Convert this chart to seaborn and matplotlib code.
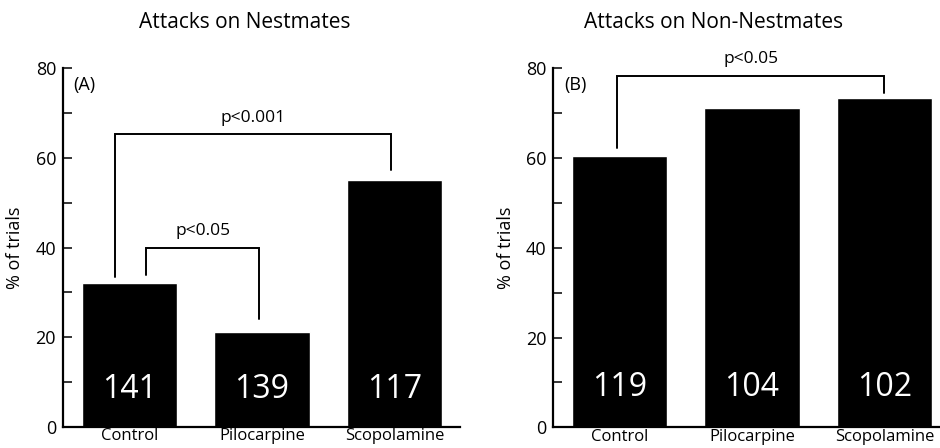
import matplotlib
matplotlib.use("Agg")
import matplotlib.pyplot as plt
import seaborn as sns
from matplotlib.ticker import MultipleLocator

# -----------------------------------
# DATA
# -----------------------------------

categories = ["Control", "Pilocarpine", "Scopolamine"]

nestmates_pct = [32.0, 21.1, 55.0]
nestmates_n = [141, 139, 117]

non_nestmates_pct = [60.4, 71.1, 73.4]
non_nestmates_n = [119, 104, 102]

titles = ["Attacks on Nestmates", "Attacks on Non-Nestmates"]
panel_labels = ["(A)", "(B)"]
y_ticks = [0, 20, 40, 60, 80]

# significance brackets: (x_left, x_right, y_top, y_left_end, y_right_end, text)
brackets_a = [
    (-0.105, 1.97, 65.2, 33.5, 57.2, "p<0.001"),
    (0.125, 0.98, 39.9, 33.9, 24.0, "p<0.05"),
]
brackets_b = [
    (-0.02, 2.0, 78.3, 62.1, 74.5, "p<0.05"),
]

# -----------------------------------
# STYLE
# -----------------------------------

sns.set_style("ticks")
plt.rcParams["font.family"] = ["Open Sans", "DejaVu Sans"]
plt.rcParams["text.color"] = "black"
plt.rcParams["axes.labelcolor"] = "black"
plt.rcParams["xtick.color"] = "black"
plt.rcParams["ytick.color"] = "black"

fig = plt.figure(figsize=(9.4, 4.48), dpi=100)

ax_a = fig.add_axes([0.067, 0.047, 0.422, 0.801])
ax_b = fig.add_axes([0.5886, 0.046, 0.4114, 0.802])


def draw_panel(ax, values, counts, brackets, label, n_y):
    sns.barplot(
        x=categories,
        y=values,
        color="black",
        saturation=1,
        width=0.72,
        errorbar=None,
        ax=ax
    )

    ax.set_xlim(-0.5, 2.49)
    ax.set_ylim(0, 80)
    ax.set_yticks(y_ticks)
    ax.yaxis.set_minor_locator(MultipleLocator(10))
    ax.tick_params(axis="y", which="both", direction="in", length=6.5,
                   width=1.1, labelsize=13, pad=5, color="black",
                   labelcolor="black", left=True, right=False)
    ax.tick_params(axis="x", length=0, labelsize=12, pad=1,
                   labelcolor="black")
    ax.set_ylabel("% of trials", fontsize=13, labelpad=8, color="black")
    ax.set_xlabel("")

    for side in ["top", "right"]:
        ax.spines[side].set_visible(False)
    for side in ["left", "bottom"]:
        ax.spines[side].set_linewidth(1.6)
        ax.spines[side].set_color("black")

    # counts inside the bars
    for i, n in enumerate(counts):
        ax.text(i, n_y, str(n), color="white", fontsize=23,
                ha="center", va="center")

    # significance brackets
    for x0, x1, top, y0, y1, txt in brackets:
        ax.plot([x0, x0, x1, x1], [y0, top, top, y1],
                color="black", lw=1.4, clip_on=False,
                solid_joinstyle="miter")
        ax.text((x0 + x1) / 2, top + 2.0, txt, fontsize=12.5,
                color="black", ha="center", va="bottom", clip_on=False)

    ax.text(-0.42, 76.2, label, fontsize=13, color="black",
            ha="left", va="center")


draw_panel(ax_a, nestmates_pct, nestmates_n, brackets_a, panel_labels[0], 8.3)
draw_panel(ax_b, non_nestmates_pct, non_nestmates_n, brackets_b, panel_labels[1], 8.9)
ax_b.set_xlim(-0.5, 2.42)

fig.text(245 / 940, 1 - 22 / 448, titles[0], fontsize=15, color="black",
         ha="center", va="center")
fig.text(714 / 940, 1 - 22 / 448, titles[1], fontsize=15, color="black",
         ha="center", va="center")

plt.savefig("out.png", dpi=100)
